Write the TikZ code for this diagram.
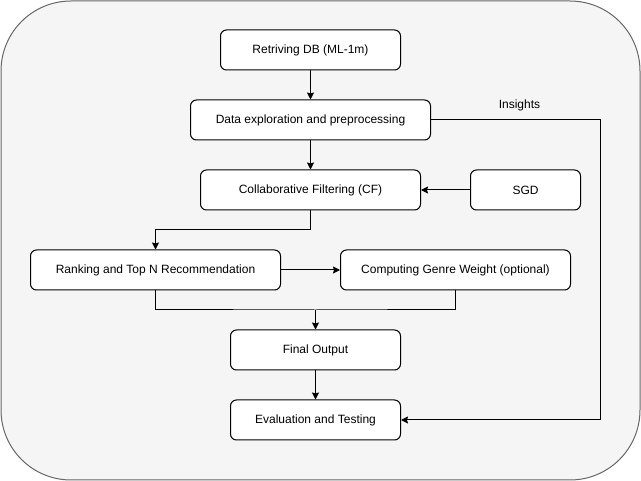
\documentclass[tikz,border=0pt]{standalone}
\usepackage{fontspec}
\setmainfont{Liberation Sans}
\usepackage{xcolor}
\definecolor{panelgray}{RGB}{245, 245, 245}
\definecolor{bordergray}{RGB}{102, 102, 102}
\usetikzlibrary{shapes, arrows.meta, positioning, calc}

\begin{document}
\begin{tikzpicture}[
    x=1pt, y=-1pt,
    box/.style={rectangle, draw=black, fill=white, rounded corners=6pt, line width=1pt, minimum height=40pt, align=center, font=\fontsize{12}{14}\selectfont, inner sep=0pt},
    arrow/.style={-{Stealth[length=7pt, width=7pt, inset=1pt]}, line width=1pt}
]
    \useasboundingbox (0,0) rectangle (641,481);
    \draw[draw=bordergray, fill=panelgray, rounded corners=70pt, line width=1pt] (1,1) rectangle (640,480);

    \node[box, minimum width=180pt] (retrieve) at (310.5, 50) {Retriving DB (ML-1m)};
    \node[box, minimum width=240pt] (explore) at (310.5, 120) {Data exploration and preprocessing};
    \node[box, minimum width=220pt] (cf) at (310.5, 190) {Collaborative Filtering (CF)};
    \node[box, minimum width=110pt] (sgd) at (525.5, 190) {SGD};
    \node[box, minimum width=250pt] (rank) at (155.5, 270) {Ranking and Top N Recommendation};
    \node[box, minimum width=230pt] (genre) at (455.5, 270) {Computing Genre Weight (optional)};
    \node[box, minimum width=170pt] (final) at (315.5, 350) {Final Output};
    \node[box, minimum width=170pt] (eval) at (315.5, 420) {Evaluation and Testing};
    \node[font=\fontsize{12}{14}\selectfont] (insights) at (519.5, 105) {Insights};

    \coordinate (join) at (315.5, 310);

    \draw[arrow] (retrieve) -- (explore);
    \draw[arrow] (explore) -- (cf);
    \draw[arrow] (sgd) -- (cf);
    \draw[arrow] (cf.south) |- (155.5, 230) -- (rank.north);
    \draw[arrow] (rank) -- (genre);
    \draw[line width=1pt] (rank.south) |- (join) -| (genre.south);
    \draw[arrow] (join) -- (final);
    \draw[arrow] (final) -- (eval);
    \draw[arrow] (explore.east) -| (600.5, 420) -- (eval.east);
\end{tikzpicture}
\end{document}
